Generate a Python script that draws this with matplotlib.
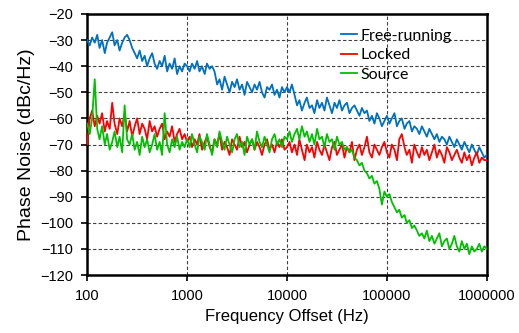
import matplotlib
matplotlib.use("Agg")
import matplotlib.pyplot as plt
from matplotlib.ticker import FixedLocator, NullLocator, FuncFormatter

# frequency offset (Hz), ~40 points per decade
freq = [
    100, 106, 112, 119, 126, 133, 141, 150, 158, 168, 178, 188, 200, 211, 224, 237, 251, 266, 282, 299,
    316, 335, 355, 376, 398, 422, 447, 473, 501, 531, 562, 596, 631, 668, 708, 750, 794, 841, 891, 944,
    1000, 1060, 1120, 1190, 1260, 1330, 1410, 1500, 1580, 1680, 1780, 1880, 2000, 2110, 2240, 2370, 2510, 2660, 2820, 2990,
    3160, 3350, 3550, 3760, 3980, 4220, 4470, 4730, 5010, 5310, 5620, 5960, 6310, 6680, 7080, 7500, 7940, 8410, 8910, 9440,
    10000, 10600, 11200, 11900, 12600, 13300, 14100, 15000, 15800, 16800, 17800, 18800, 20000, 21100, 22400, 23700, 25100, 26600, 28200, 29900,
    31600, 33500, 35500, 37600, 39800, 42200, 44700, 47300, 50100, 53100, 56200, 59600, 63100, 66800, 70800, 75000, 79400, 84100, 89100, 94400,
    100000, 106000, 112000, 119000, 126000, 133000, 141000, 150000, 158000, 168000, 178000, 188000, 200000, 211000, 224000, 237000, 251000, 266000, 282000, 299000,
    316000, 335000, 355000, 376000, 398000, 422000, 447000, 473000, 501000, 531000, 562000, 596000, 631000, 668000, 708000, 750000, 794000, 841000, 891000, 944000,
    1000000,
]

free_running = [
    -30, -32, -29, -31, -28, -33, -30, -35, -31, -29, -27, -32, -30, -34, -31, -29, -28, -30, -33, -35,
    -37, -34, -38, -36, -40, -37, -35, -39, -41, -38, -40, -36, -42, -39, -41, -37, -43, -40, -42, -39,
    -40, -42, -39, -41, -38, -42, -40, -43, -39, -41, -40, -42, -47, -45, -49, -44, -47, -50, -46, -48,
    -45, -49, -47, -51, -46, -48, -50, -47, -49, -46, -50, -52, -48, -49, -47, -51, -49, -52, -48, -50,
    -48, -50, -47, -51, -55, -53, -57, -54, -52, -56, -55, -58, -53, -56, -54, -57, -52, -55, -58, -54,
    -56, -53, -57, -55, -54, -58, -56, -55, -57, -59, -56, -58, -57, -61, -59, -62, -58, -60, -63, -61,
    -59, -62, -60, -58, -63, -61, -60, -64, -62, -61, -65, -63, -64, -66, -63, -65, -67, -64, -66, -68,
    -66, -69, -67, -68, -70, -67, -69, -71, -68, -70, -72, -69, -71, -73, -70, -72, -74, -71, -73, -75,
    -74,
]

locked = [
    -70, -60, -57, -63, -59, -62, -58, -65, -61, -64, -54, -62, -66, -60, -63, -58, -65, -61, -67, -63,
    -60, -66, -62, -64, -68, -61, -65, -63, -67, -64, -62, -68, -65, -67, -63, -69, -66, -64, -68, -66,
    -69, -67, -71, -68, -70, -66, -72, -69, -67, -71, -73, -68, -70, -66, -72, -69, -71, -74, -68, -70,
    -72, -67, -71, -69, -73, -70, -68, -72, -69, -71, -74, -70, -68, -72, -70, -73, -69, -71, -68, -72,
    -71, -69, -73, -70, -74, -68, -72, -76, -70, -73, -71, -75, -69, -72, -74, -70, -73, -76, -71, -69,
    -74, -72, -70, -75, -71, -73, -69, -76, -72, -70, -74, -71, -67, -73, -75, -70, -72, -74, -71, -69,
    -73, -75, -70, -72, -76, -68, -66, -71, -74, -72, -77, -70, -73, -75, -71, -74, -72, -76, -73, -70,
    -75, -72, -74, -77, -71, -73, -76, -74, -72, -75, -77, -73, -76, -74, -78, -75, -73, -77, -75, -76,
    -76,
]

source = [
    -62, -66, -60, -45, -64, -68, -63, -70, -66, -72, -69, -65, -71, -67, -73, -55, -68, -70, -66, -72,
    -69, -74, -67, -71, -68, -73, -70, -66, -72, -69, -74, -58, -70, -73, -68, -71, -67, -72, -69, -71,
    -68, -71, -66, -70, -73, -67, -69, -72, -66, -70, -74, -68, -71, -65, -69, -72, -67, -70, -73, -68,
    -66, -71, -69, -74, -67, -70, -68, -72, -65, -69, -71, -67, -70, -73, -68, -66, -70, -68, -71, -67,
    -68, -65, -69, -66, -64, -68, -63, -67, -65, -69, -66, -70, -64, -68, -67, -71, -66, -69, -68, -72,
    -67, -70, -69, -72, -71, -73, -72, -75, -76, -78, -77, -80, -81, -83, -82, -85, -84, -87, -93, -88,
    -90, -89, -92, -94, -96, -95, -98, -97, -100, -99, -102, -101, -103, -105, -104, -106, -103, -107, -105, -108,
    -106, -104, -109, -107, -106, -110, -108, -105, -109, -111, -107, -110, -108, -112, -109, -111, -110, -108, -111, -109,
    -110,
]

x_ticks = [100, 1000, 10000, 100000, 1000000]
y_ticks = list(range(-120, -19, 10))

fig = plt.figure(figsize=(5.19, 3.33), dpi=100)
ax = fig.add_axes([0.168, 0.174, 0.770, 0.784])

ax.plot(freq, free_running, color="#0070C0", lw=1.3, label="Free-running", zorder=3)
ax.plot(freq, locked, color="#FF0000", lw=1.3, label="Locked", zorder=4)
ax.plot(freq, source, color="#00C000", lw=1.3, label="Source", zorder=5)

ax.set_xscale("log")
ax.set_xlim(100, 1000000)
ax.set_ylim(-120, -20)
ax.xaxis.set_major_locator(FixedLocator(x_ticks))
ax.xaxis.set_minor_locator(NullLocator())
ax.xaxis.set_major_formatter(FuncFormatter(lambda v, p: f"{int(round(v))}"))
ax.set_yticks(y_ticks)

ax.grid(True, which="major", ls=(0, (3, 2)), color="#404040", lw=0.8)
for s in ax.spines.values():
    s.set_linewidth(1.8)
    s.set_color("black")

ax.tick_params(direction="out", length=4, width=1.2, labelsize=10.5, pad=6)
for lab in ax.get_xticklabels() + ax.get_yticklabels():
    lab.set_family("Liberation Sans")

ax.set_xlabel("Frequency Offset (Hz)", fontsize=12, family="Liberation Sans", labelpad=4)
ax.set_ylabel("Phase Noise (dBc/Hz)", fontsize=14, family="Liberation Sans", labelpad=4)

ax.legend(loc="upper left", bbox_to_anchor=(0.6, 1.0), frameon=False, handlelength=1.0,
          handletextpad=0.2, labelspacing=0.35, prop={"family": "Lato", "size": 11.5})

fig.savefig("out.png", dpi=100)
